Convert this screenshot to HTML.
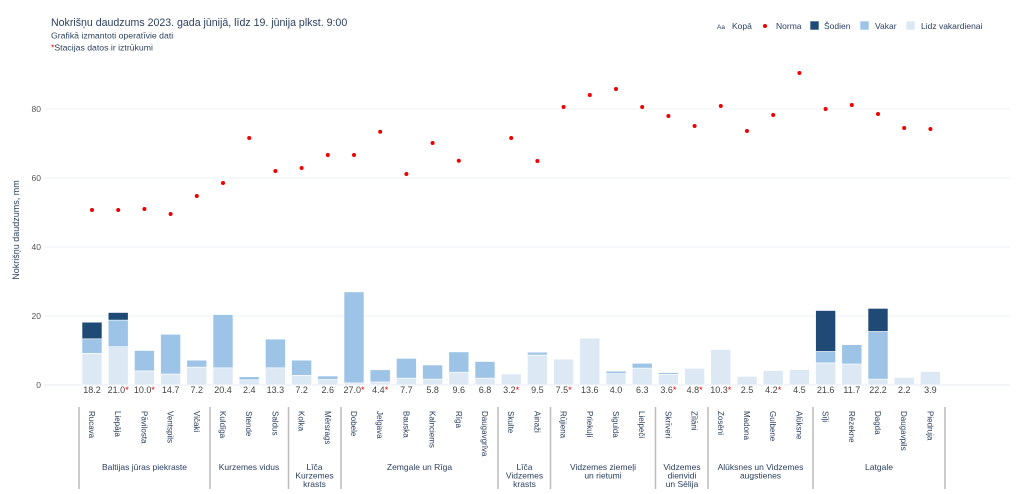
<!DOCTYPE html>
<html><head><meta charset="utf-8"><style>
html,body{margin:0;padding:0;background:#fff;}
svg{display:block;font-family:"Liberation Sans","DejaVu Sans",sans-serif;}
.v{font-size:9px;fill:#444;text-anchor:middle}
.s{font-size:8px;fill:#2a3f5f}
.g{font-size:8.5px;fill:#2a3f5f;text-anchor:middle}
.a{fill:#e00;font-size:9px}
.L{fill:#dde8f5}.V{fill:#9dc3e6}.T{fill:#1f4a75}
rect{stroke:#fff;stroke-width:0.6}
</style></head><body>
<svg width="1024" height="494" viewBox="0 0 1024 494">
<text x="51" y="26" font-size="10.6" fill="#2a3f5f">Nokrišņu daudzums 2023. gada jūnijā, līdz 19. jūnija plkst. 9:00</text>
<text x="51" y="38.5" font-size="8.7" fill="#2a3f5f">Grafikā izmantoti operatīvie dati</text>
<text x="51" y="50.5" font-size="8.7" fill="#2a3f5f"><tspan fill="#e00">*</tspan>Stacijas datos ir iztrūkumi</text>
<!-- legend -->
<g font-size="8.5" fill="#2a3f5f">
<text x="717" y="29" font-size="6.5">Aa</text><text x="732" y="29">Kopā</text>
<circle cx="765" cy="26" r="2" fill="#e00"/><text x="776" y="29">Norma</text>
<rect x="810" y="21" width="9" height="9" class="T"/><text x="824" y="29">Šodien</text>
<rect x="860" y="21" width="9" height="9" class="V"/><text x="875" y="29">Vakar</text>
<rect x="906" y="21" width="9" height="9" class="L"/><text x="921" y="29">Lidz vakardienai</text>
</g>
<!-- grid -->
<g stroke="#eef1f7" stroke-width="1">
<line x1="44" x2="1010" y1="109" y2="109"/><line x1="44" x2="1010" y1="178" y2="178"/>
<line x1="44" x2="1010" y1="247" y2="247"/><line x1="44" x2="1010" y1="316" y2="316"/>
<line x1="44" x2="1010" y1="385" y2="385" stroke="#e4e8f0"/>
</g>
<g font-size="8.5" fill="#555" text-anchor="end">
<text x="41" y="112">80</text><text x="41" y="181">60</text><text x="41" y="250">40</text><text x="41" y="319">20</text><text x="41" y="388">0</text>
</g>
<text transform="translate(19,230) rotate(-90)" font-size="9" fill="#2a3f5f" text-anchor="middle">Nokrišņu daudzums, mm</text>
<!-- bars -->
<g>
<rect class="L" x="82" y="353.3" width="20" height="31.7"/><rect class="V" x="82" y="338.8" width="20" height="14.5"/><rect class="T" x="82" y="322.2" width="20" height="16.6"/>
<rect class="L" x="108.2" y="346.7" width="20" height="38.3"/><rect class="V" x="108.2" y="320.1" width="20" height="26.6"/><rect class="T" x="108.2" y="312.5" width="20" height="7.6"/>
<rect class="L" x="134.4" y="370.9" width="20" height="14.1"/><rect class="V" x="134.4" y="350.5" width="20" height="20.4"/>
<rect class="L" x="160.6" y="374" width="20" height="11"/><rect class="V" x="160.6" y="334.3" width="20" height="39.7"/>
<rect class="L" x="186.8" y="367.1" width="20" height="17.9"/><rect class="V" x="186.8" y="360.2" width="20" height="6.9"/>
<rect class="L" x="213" y="367.8" width="20" height="17.2"/><rect class="V" x="213" y="314.6" width="20" height="53.2"/>
<rect class="L" x="239.2" y="379.8" width="20" height="5.2"/><rect class="V" x="239.2" y="376.7" width="20" height="3.1"/>
<rect class="L" x="265.4" y="367.8" width="20" height="17.2"/><rect class="V" x="265.4" y="339.1" width="20" height="28.7"/>
<rect class="L" x="291.6" y="375.3" width="20" height="9.7"/><rect class="V" x="291.6" y="360.2" width="20" height="15.1"/>
<rect class="L" x="317.8" y="379.5" width="20" height="5.5"/><rect class="V" x="317.8" y="376" width="20" height="3.5"/>
<rect class="L" x="344" y="382.9" width="20" height="2.1"/><rect class="V" x="344" y="291.9" width="20" height="91"/>
<rect class="L" x="370.2" y="381.9" width="20" height="3.1"/><rect class="V" x="370.2" y="369.8" width="20" height="12.1"/>
<rect class="L" x="396.4" y="378.1" width="20" height="6.9"/><rect class="V" x="396.4" y="358.4" width="20" height="19.7"/>
<rect class="L" x="422.6" y="379.1" width="20" height="5.9"/><rect class="V" x="422.6" y="365" width="20" height="14.1"/>
<rect class="L" x="448.8" y="372.2" width="20" height="12.8"/><rect class="V" x="448.8" y="351.9" width="20" height="20.3"/>
<rect class="L" x="475" y="378.1" width="20" height="6.9"/><rect class="V" x="475" y="361.5" width="20" height="16.6"/>
<rect class="L" x="501.2" y="374" width="20" height="11"/>
<rect class="L" x="527.4" y="355" width="20" height="30"/><rect class="V" x="527.4" y="352.2" width="20" height="2.8"/>
<rect class="L" x="553.6" y="359.1" width="20" height="25.9"/>
<rect class="L" x="579.8" y="338.1" width="20" height="46.9"/>
<rect class="L" x="606" y="373.6" width="20" height="11.4"/><rect class="V" x="606" y="371.2" width="20" height="2.4"/>
<rect class="L" x="632.2" y="368.1" width="20" height="16.9"/><rect class="V" x="632.2" y="363.3" width="20" height="4.8"/>
<rect class="L" x="658.4" y="374.3" width="20" height="10.7"/><rect class="V" x="658.4" y="372.6" width="20" height="1.7"/>
<rect class="L" x="684.6" y="368.4" width="20" height="16.6"/>
<rect class="L" x="710.8" y="349.5" width="20" height="35.5"/>
<rect class="L" x="737" y="376.4" width="20" height="8.6"/>
<rect class="L" x="763.2" y="370.5" width="20" height="14.5"/>
<rect class="L" x="789.4" y="369.5" width="20" height="15.5"/>
<rect class="L" x="815.6" y="362.9" width="20" height="22.1"/><rect class="V" x="815.6" y="351.5" width="20" height="11.4"/><rect class="T" x="815.6" y="310.5" width="20" height="41"/>
<rect class="L" x="841.8" y="364" width="20" height="21"/><rect class="V" x="841.8" y="344.6" width="20" height="19.4"/>
<rect class="L" x="868" y="379.1" width="20" height="5.9"/><rect class="V" x="868" y="331.5" width="20" height="47.6"/><rect class="T" x="868" y="308.4" width="20" height="23.1"/>
<rect class="L" x="894.2" y="377.4" width="20" height="7.6"/>
<rect class="L" x="920.4" y="371.5" width="20" height="13.5"/>
</g>
<!-- norma -->
<g fill="#e00">
<circle cx="92" cy="210" r="2"/><circle cx="118.2" cy="210" r="2"/><circle cx="144.4" cy="209" r="2"/><circle cx="170.6" cy="214" r="2"/><circle cx="196.8" cy="196" r="2"/><circle cx="223" cy="183" r="2"/><circle cx="249.2" cy="138" r="2"/><circle cx="275.4" cy="171" r="2"/><circle cx="301.6" cy="168" r="2"/><circle cx="327.8" cy="155" r="2"/><circle cx="354" cy="155" r="2"/><circle cx="380.2" cy="131.7" r="2"/><circle cx="406.4" cy="174" r="2"/><circle cx="432.6" cy="143" r="2"/><circle cx="458.8" cy="160.7" r="2"/><circle cx="511.2" cy="138" r="2"/><circle cx="537.4" cy="161" r="2"/><circle cx="563.6" cy="107" r="2"/><circle cx="589.8" cy="95" r="2"/><circle cx="616" cy="89" r="2"/><circle cx="642.2" cy="107" r="2"/><circle cx="668.4" cy="116" r="2"/><circle cx="694.6" cy="126" r="2"/><circle cx="720.8" cy="106" r="2"/><circle cx="747" cy="131" r="2"/><circle cx="773.2" cy="115" r="2"/><circle cx="799.4" cy="73" r="2"/><circle cx="825.6" cy="109" r="2"/><circle cx="851.8" cy="105" r="2"/><circle cx="878" cy="114" r="2"/><circle cx="904.2" cy="128" r="2"/><circle cx="930.4" cy="129" r="2"/>
</g>
<!-- values -->
<g class="v">
<text x="92" y="393" class="v">18.2</text>
<text x="118.2" y="393" class="v">21.0<tspan class="a">*</tspan></text>
<text x="144.4" y="393" class="v">10.0<tspan class="a">*</tspan></text>
<text x="170.6" y="393" class="v">14.7</text>
<text x="196.8" y="393" class="v">7.2</text>
<text x="223" y="393" class="v">20.4</text>
<text x="249.2" y="393" class="v">2.4</text>
<text x="275.4" y="393" class="v">13.3</text>
<text x="301.6" y="393" class="v">7.2</text>
<text x="327.8" y="393" class="v">2.6</text>
<text x="354" y="393" class="v">27.0<tspan class="a">*</tspan></text>
<text x="380.2" y="393" class="v">4.4<tspan class="a">*</tspan></text>
<text x="406.4" y="393" class="v">7.7</text>
<text x="432.6" y="393" class="v">5.8</text>
<text x="458.8" y="393" class="v">9.6</text>
<text x="485" y="393" class="v">6.8</text>
<text x="511.2" y="393" class="v">3.2<tspan class="a">*</tspan></text>
<text x="537.4" y="393" class="v">9.5</text>
<text x="563.6" y="393" class="v">7.5<tspan class="a">*</tspan></text>
<text x="589.8" y="393" class="v">13.6</text>
<text x="616" y="393" class="v">4.0</text>
<text x="642.2" y="393" class="v">6.3</text>
<text x="668.4" y="393" class="v">3.6<tspan class="a">*</tspan></text>
<text x="694.6" y="393" class="v">4.8<tspan class="a">*</tspan></text>
<text x="720.8" y="393" class="v">10.3<tspan class="a">*</tspan></text>
<text x="747" y="393" class="v">2.5</text>
<text x="773.2" y="393" class="v">4.2<tspan class="a">*</tspan></text>
<text x="799.4" y="393" class="v">4.5</text>
<text x="825.6" y="393" class="v">21.6</text>
<text x="851.8" y="393" class="v">11.7</text>
<text x="878" y="393" class="v">22.2</text>
<text x="904.2" y="393" class="v">2.2</text>
<text x="930.4" y="393" class="v">3.9</text>
</g>
<!-- dividers -->
<g stroke="#bbb" stroke-width="1.5">
<line x1="79" x2="79" y1="407" y2="489"/><line x1="210" x2="210" y1="407" y2="489"/><line x1="288.5" x2="288.5" y1="407" y2="489"/><line x1="341" x2="341" y1="407" y2="489"/><line x1="498" x2="498" y1="407" y2="489"/><line x1="550.5" x2="550.5" y1="407" y2="489"/><line x1="655.5" x2="655.5" y1="407" y2="489"/><line x1="708" x2="708" y1="407" y2="489"/><line x1="813" x2="813" y1="407" y2="489"/><line x1="945" x2="945" y1="407" y2="489"/>
</g>
<!-- station labels -->
<g class="s">
<text class="s" transform="translate(89,411) rotate(90)">Rucava</text>
<text class="s" transform="translate(115.2,411) rotate(90)">Liepāja</text>
<text class="s" transform="translate(141.4,411) rotate(90)">Pāvilosta</text>
<text class="s" transform="translate(167.6,411) rotate(90)">Ventspils</text>
<text class="s" transform="translate(193.8,411) rotate(90)">Vičaki</text>
<text class="s" transform="translate(220,411) rotate(90)">Kuldīga</text>
<text class="s" transform="translate(246.2,411) rotate(90)">Stende</text>
<text class="s" transform="translate(272.4,411) rotate(90)">Saldus</text>
<text class="s" transform="translate(298.6,411) rotate(90)">Kolka</text>
<text class="s" transform="translate(324.8,411) rotate(90)">Mērsrags</text>
<text class="s" transform="translate(351,411) rotate(90)">Dobele</text>
<text class="s" transform="translate(377.2,411) rotate(90)">Jelgava</text>
<text class="s" transform="translate(403.4,411) rotate(90)">Bauska</text>
<text class="s" transform="translate(429.6,411) rotate(90)">Kalnciems</text>
<text class="s" transform="translate(455.8,411) rotate(90)">Rīga</text>
<text class="s" transform="translate(482,411) rotate(90)">Daugavgrīva</text>
<text class="s" transform="translate(508.2,411) rotate(90)">Skulte</text>
<text class="s" transform="translate(534.4,411) rotate(90)">Ainaži</text>
<text class="s" transform="translate(560.6,411) rotate(90)">Rūjiena</text>
<text class="s" transform="translate(586.8,411) rotate(90)">Priekuļi</text>
<text class="s" transform="translate(613,411) rotate(90)">Sigulda</text>
<text class="s" transform="translate(639.2,411) rotate(90)">Lielpeči</text>
<text class="s" transform="translate(665.4,411) rotate(90)">Skrīveri</text>
<text class="s" transform="translate(691.6,411) rotate(90)">Zīlāni</text>
<text class="s" transform="translate(717.8,411) rotate(90)">Zosēni</text>
<text class="s" transform="translate(744,411) rotate(90)">Madona</text>
<text class="s" transform="translate(770.2,411) rotate(90)">Gulbene</text>
<text class="s" transform="translate(796.4,411) rotate(90)">Alūksne</text>
<text class="s" transform="translate(822.6,411) rotate(90)">Sīļi</text>
<text class="s" transform="translate(848.8,411) rotate(90)">Rēzekne</text>
<text class="s" transform="translate(875,411) rotate(90)">Dagda</text>
<text class="s" transform="translate(901.2,411) rotate(90)">Daugavpils</text>
<text class="s" transform="translate(927.4,411) rotate(90)">Piedruja</text>
</g>
<!-- group labels -->
<g>
<text class="g" x="144.5" y="470">Baltijas jūras piekraste</text>
<text class="g" x="249" y="470">Kurzemes vidus</text>
<text class="g" x="314.5" y="470">Līča</text><text class="g" x="314.5" y="478.5">Kurzemes</text><text class="g" x="314.5" y="487">krasts</text>
<text class="g" x="419.5" y="470">Zemgale un Rīga</text>
<text class="g" x="524.5" y="470">Līča</text><text class="g" x="524.5" y="478.5">Vidzemes</text><text class="g" x="524.5" y="487">krasts</text>
<text class="g" x="603" y="470">Vidzemes ziemeļi</text><text class="g" x="603" y="478.5">un rietumi</text>
<text class="g" x="682" y="470">Vidzemes</text><text class="g" x="682" y="478.5">dienvidi</text><text class="g" x="682" y="487">un Sēlija</text>
<text class="g" x="760.5" y="470">Alūksnes un Vidzemes</text><text class="g" x="760.5" y="478.5">augstienes</text>
<text class="g" x="879" y="470">Latgale</text>
</g>
</svg>
</body></html>
